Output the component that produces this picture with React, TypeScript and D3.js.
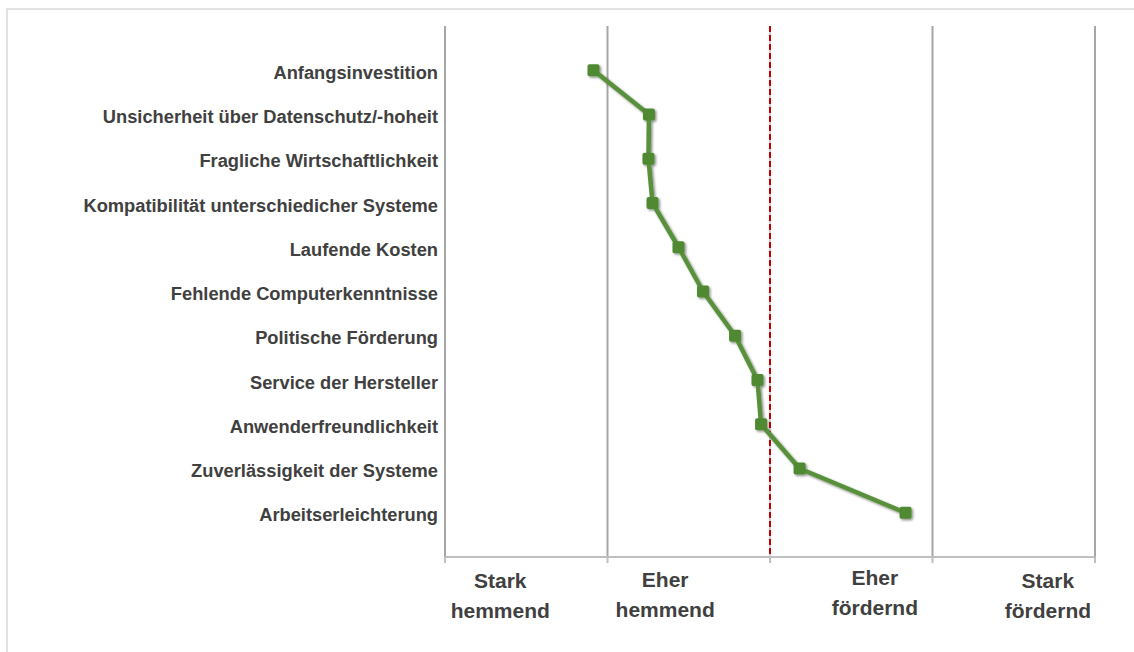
import React from "react";
import * as d3 from "d3";

const categories = [
  "Anfangsinvestition",
  "Unsicherheit über Datenschutz/-hoheit",
  "Fragliche Wirtschaftlichkeit",
  "Kompatibilität unterschiedicher Systeme",
  "Laufende Kosten",
  "Fehlende Computerkenntnisse",
  "Politische Förderung",
  "Service der Hersteller",
  "Anwenderfreundlichkeit",
  "Zuverlässigkeit der Systeme",
  "Arbeitserleichterung",
];

const values = [-1.086, -0.745, -0.748, -0.723, -0.563, -0.412, -0.215, -0.077, -0.055, 0.182, 0.834];

const gridTicks = [-2, -1, 0, 1, 2];

const scaleLabels = [
  ["Stark", "hemmend"],
  ["Eher", "hemmend"],
  ["Eher", "fördernd"],
  ["Stark", "fördernd"],
];
const scaleLabelAt = [-1.66, -0.645, 0.645, 1.71];
const scaleLabelShift = [0, -1, -3, 0];

const W = 1134;
const H = 652;
const TOP = 26;
const BOTTOM = 557;
const LEFT = 445;
const RIGHT = 1095;

export default function App() {
  const x = d3.scaleLinear().domain([-2, 2]).range([LEFT, RIGHT]);
  const y = d3.scalePoint<string>().domain(categories).range([TOP, BOTTOM]).padding(1);

  const pts: [number, number][] = categories.map((c, i) => [x(values[i]), y(c)!]);
  const line = d3.line();

  const textColor = "#404040";
  const font = "'Liberation Sans', Arial, sans-serif";

  return (
    <div style={{ position: "fixed", left: 0, top: 0 }}>
      <svg width={W} height={H} style={{ display: "block", background: "#fff" }}>
        <defs>
          <filter id="shadow" x="-20%" y="-20%" width="140%" height="140%">
            <feDropShadow dx="1.5" dy="1.5" stdDeviation="1.3" floodColor="#000" floodOpacity="0.45" />
          </filter>
        </defs>
        <rect x={7} y={9} width={W + 20} height={H + 20} fill="none" stroke="#d9d9d9" strokeWidth={1.5} />

        {gridTicks.map((t) =>
          t === 0 ? (
            <g key={t}>
              <line x1={x(t)} x2={x(t)} y1={TOP} y2={BOTTOM} stroke="#d0d0d0" strokeWidth={2} />
              <line x1={x(t)} x2={x(t)} y1={TOP} y2={BOTTOM} stroke="#c00000" strokeWidth={2} strokeDasharray="6,3" />
            </g>
          ) : (
            <line key={t} x1={x(t)} x2={x(t)} y1={TOP} y2={BOTTOM} stroke="#a6a6a6" strokeWidth={2} />
          )
        )}

        <line x1={LEFT} x2={RIGHT} y1={BOTTOM} y2={BOTTOM} stroke="#bfbfbf" strokeWidth={2} />
        {gridTicks.map((t) => (
          <line key={"tk" + t} x1={x(t)} x2={x(t)} y1={BOTTOM} y2={BOTTOM + 6} stroke="#bfbfbf" strokeWidth={2} />
        ))}

        {categories.map((c) => (
          <text
            key={c}
            x={438}
            y={y(c)! + 8.5}
            textAnchor="end"
            fontFamily={font}
            fontWeight="bold"
            fontSize={18.3}
            fill={textColor}
          >
            {c}
          </text>
        ))}

        <g filter="url(#shadow)">
          <path d={line(pts)!} fill="none" stroke="#58903a" strokeWidth={4.5} strokeLinejoin="round" />
          {pts.map((p, i) => (
            <rect key={i} x={p[0] - 6} y={p[1] - 6} width={12} height={12} rx={2} fill="#4f8a30" />
          ))}
        </g>

        {scaleLabels.map((lab, i) => (
          <text
            key={i}
            textAnchor="middle"
            fontFamily={font}
            fontWeight="bold"
            fontSize={21}
            fill={textColor}
          >
            <tspan x={x(scaleLabelAt[i])} y={588 + scaleLabelShift[i]}>{lab[0]}</tspan>
            <tspan x={x(scaleLabelAt[i])} y={618 + scaleLabelShift[i]}>{lab[1]}</tspan>
          </text>
        ))}
      </svg>
    </div>
  );
}
